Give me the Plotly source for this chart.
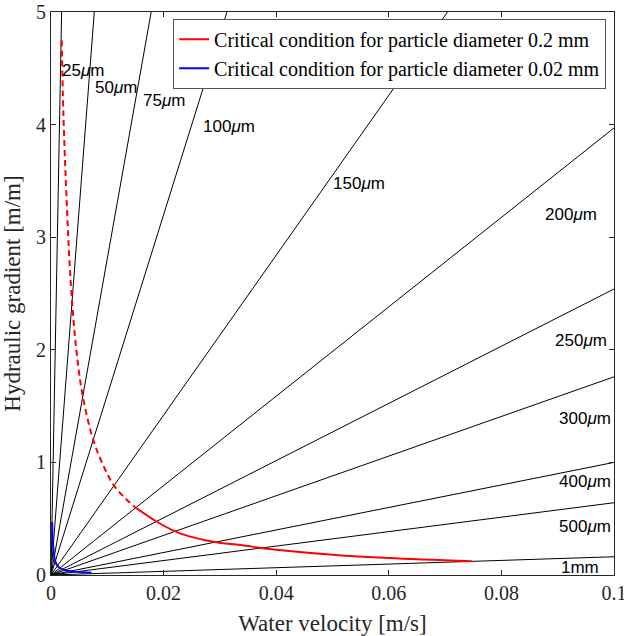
import plotly.graph_objects as go

# Slopes (hydraulic gradient per unit velocity) of the fan lines
line_names = ["25μm", "50μm", "75μm", "100μm", "150μm", "200μm", "250μm", "300μm", "400μm", "500μm", "1mm"]
line_slopes = [2650, 650, 281, 160, 71, 39.7, 25.4, 17.6, 10.0, 6.42, 1.62]

# Label anchor positions (x, y) in data units
label_text = ["25<i>μ</i>m", "50<i>μ</i>m", "75<i>μ</i>m", "100<i>μ</i>m", "150<i>μ</i>m", "200<i>μ</i>m",
              "250<i>μ</i>m", "300<i>μ</i>m", "400<i>μ</i>m", "500<i>μ</i>m", "1mm"]
label_x = [0.0056, 0.0116, 0.0201, 0.0316, 0.0547, 0.0924, 0.0941, 0.0948, 0.0948, 0.0948, 0.0940]
label_y = [4.48, 4.33, 4.21, 3.98, 3.48, 3.20, 2.08, 1.39, 0.83, 0.435, 0.07]

# Critical condition, particle diameter 0.2 mm (dashed part, then solid part)
red_dash_x = [0.0019, 0.0022, 0.0028, 0.0035, 0.0045, 0.0056, 0.0075, 0.0095, 0.0111, 0.0130, 0.0150]
red_dash_y = [4.75, 4.10, 3.30, 2.60, 2.00, 1.60, 1.20, 0.95, 0.80, 0.69, 0.60]
red_solid_x = [0.0150, 0.0188, 0.0229, 0.0288, 0.0336, 0.0400, 0.0500, 0.0600, 0.0747]
red_solid_y = [0.60, 0.473, 0.370, 0.296, 0.266, 0.225, 0.180, 0.150, 0.122]

# Critical condition, particle diameter 0.02 mm
blue_x = [0.0002, 0.0003, 0.0005, 0.0007, 0.0011, 0.0016, 0.0025, 0.0040, 0.0055, 0.0072]
blue_y = [0.47, 0.32, 0.20, 0.13, 0.085, 0.06, 0.042, 0.030, 0.024, 0.020]

X_MAX = 0.1
Y_MAX = 5.0

fig = go.Figure()

for name, k in zip(line_names, line_slopes):
    x_end = min(X_MAX, Y_MAX / k)
    fig.add_trace(go.Scatter(x=[0, x_end], y=[0, k * x_end], mode="lines",
                             line=dict(color="black", width=1), showlegend=False,
                             hoverinfo="skip", name=name))

fig.add_trace(go.Scatter(x=red_dash_x, y=red_dash_y, mode="lines",
                         line=dict(color="#ff0000", width=2, dash="6px,4px", shape="spline"),
                         showlegend=False))
fig.add_trace(go.Scatter(x=red_solid_x, y=red_solid_y, mode="lines",
                         line=dict(color="#ff0000", width=2, shape="spline"),
                         name="Critical condition for particle diameter 0.2 mm"))
fig.add_trace(go.Scatter(x=blue_x, y=blue_y, mode="lines",
                         line=dict(color="#0000ff", width=2, shape="spline"),
                         name="Critical condition for particle diameter 0.02 mm"))

for t, lx, ly in zip(label_text, label_x, label_y):
    fig.add_annotation(x=lx, y=ly, text=t, showarrow=False,
                       font=dict(family="Liberation Sans, Arial", size=17, color="black"),
                       xanchor="center", yanchor="middle")

axis_common = dict(showline=True, linecolor="#262626", linewidth=1, mirror="allticks",
                   ticks="inside", ticklen=5, tickcolor="#262626", showgrid=False, zeroline=False,
                   automargin=False, ticklabeloverflow="allow",
                   tickfont=dict(family="Liberation Serif, Times New Roman", size=20, color="#262626"))

fig.update_xaxes(range=[0, X_MAX], tickvals=[0, 0.02, 0.04, 0.06, 0.08, 0.1],
                 ticktext=["0", "0.02", "0.04", "0.06", "0.08", "0.1"],
                 title=dict(text="Water velocity [m/s]",
                            font=dict(family="Liberation Serif, Times New Roman", size=23, color="#262626")),
                 **axis_common)
fig.update_yaxes(range=[0, Y_MAX], tickvals=[0, 1, 2, 3, 4, 5],
                 title=dict(text="Hydraulic gradient [m/m]",
                            font=dict(family="Liberation Serif, Times New Roman", size=23, color="#262626")),
                 **axis_common)

fig.update_layout(
    width=624, height=636,
    margin=dict(l=51, r=10, t=12, b=61),
    plot_bgcolor="white", paper_bgcolor="white",
    legend=dict(x=0.986, y=0.988, xanchor="right", yanchor="top",
                bgcolor="white", bordercolor="#555555", borderwidth=1,
                font=dict(family="Liberation Serif, Times New Roman", size=20, color="black"),
                itemwidth=30, tracegroupgap=0),
)

fig.write_html("out.html", config={"displayModeBar": False},
               post_script="document.body.style.margin='0';document.body.style.padding='0';")
